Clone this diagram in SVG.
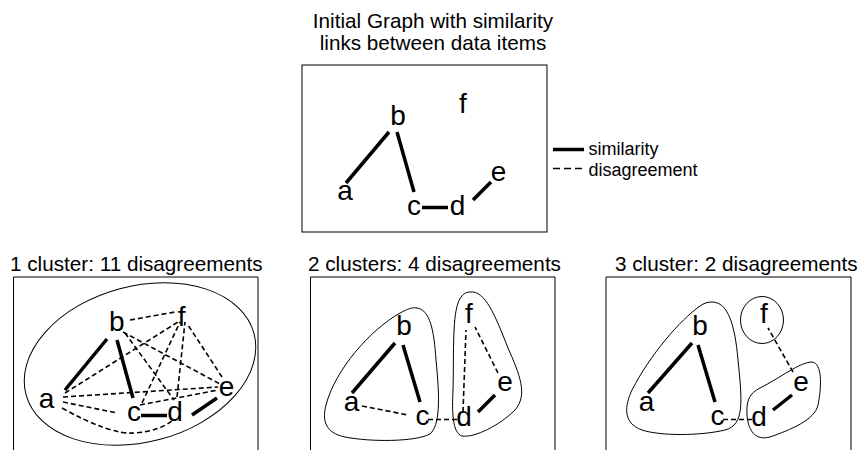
<svg xmlns="http://www.w3.org/2000/svg" width="861" height="450" viewBox="0 0 861 450">
<style>
  .t { font-family: "Liberation Sans", Arial, sans-serif; fill: #000; }
  .title { font-size: 20.7px; }
  .leg { font-size: 18px; }
  .n { font-size: 28px; text-anchor: middle; }
  .box { fill: none; stroke: #000; stroke-width: 1; }
  .sim { stroke: #000; stroke-width: 3.5; fill: none; }
  .dis { stroke: #000; stroke-width: 1.6; stroke-dasharray: 5 3; fill: none; }
  .cl { fill: none; stroke: #000; stroke-width: 1; }
</style>
<rect width="861" height="450" fill="#fff"/>

<g id="title-initial">
  <text class="t title" x="433" y="28" text-anchor="middle">Initial Graph with similarity</text>
  <text class="t title" x="433" y="50" text-anchor="middle">links between data items</text>
</g>
<g id="frame-initial"><rect class="box" x="302" y="65" width="245" height="167"/></g>

<g id="legend">
  <line class="sim" x1="553" y1="149.5" x2="584" y2="149.5"/>
  <text class="t leg" x="588.5" y="155">similarity</text>
  <line x1="553" y1="168.5" x2="584" y2="168.5" stroke="#000" stroke-width="1.6" stroke-dasharray="7 4"/>
  <text class="t leg" x="588.5" y="176">disagreement</text>
</g>

<g id="panel-titles">
  <text class="t title" x="10" y="271">1 cluster: 11 disagreements</text>
  <text class="t title" x="308" y="271">2 clusters: 4 disagreements</text>
  <text class="t title" x="615" y="271">3 cluster: 2 disagreements</text>
</g>
<g id="frames">
  <path class="box" d="M13.5,451 V277 H258 V451"/>
  <path class="box" d="M310.5,451 V277 H555 V451"/>
  <path class="box" d="M606,451 V277 H851 V451"/>
</g>

<g id="clusters">
  <ellipse class="cl" cx="140" cy="364" rx="118" ry="78" transform="rotate(-15 140 364)"/>
  <path class="cl" d="M417,308 C430,310 434,330 436,360 C440,400 440,425 430,434 C415,442 370,442 345,437 C325,433 322,420 326,405 C335,370 370,330 400,313 C408,309 412,307 417,308 Z"/>
  <path class="cl" d="M470,292 C485,290 495,315 508,348 C520,375 528,395 515,410 C500,425 475,438 462,436 C452,433 452,410 453,390 C454,360 452,320 458,303 C461,295 465,292 470,292 Z"/>
  <path class="cl" d="M712,302 C728,302 735,325 738,360 C742,400 745,425 725,430 C700,436 660,436 642,430 C622,423 625,405 632,390 C650,355 680,320 700,306 C704,303 708,302 712,302 Z"/>
  <ellipse class="cl" cx="762" cy="320" rx="21.5" ry="23.5"/>
  <path class="cl" d="M760,388 C780,378 800,362 812,362 C822,363 822,385 818,405 C815,420 790,430 770,437 C755,441 748,430 747,415 C746,400 750,393 760,388 Z"/>
</g>

<g id="connectors">
  <!-- initial graph -->
  <line class="sim" x1="346" y1="183" x2="389" y2="132"/>
  <line class="sim" x1="397" y1="132" x2="414" y2="192"/>
  <line class="sim" x1="422" y1="207.5" x2="448" y2="207.5"/>
  <line class="sim" x1="473" y1="200" x2="491" y2="182"/>
  <!-- panel 1 -->
  <line class="sim" x1="65" y1="390" x2="107" y2="339"/>
  <line class="sim" x1="117" y1="340" x2="133" y2="398"/>
  <line class="sim" x1="141" y1="415.5" x2="167" y2="415.5"/>
  <line class="sim" x1="192" y1="415" x2="217" y2="398"/>
  <line class="dis" x1="130" y1="320" x2="175" y2="312"/>
  <line class="dis" x1="123" y1="332" x2="220" y2="384"/>
  <line class="dis" x1="125" y1="333" x2="174" y2="400"/>
  <line class="dis" x1="65" y1="393" x2="178" y2="322"/>
  <line class="dis" x1="63" y1="397" x2="218" y2="387"/>
  <line class="dis" x1="63" y1="402" x2="117" y2="413"/>
  <path class="dis" d="M62,408 Q110,435 135,433 Q160,431 173,420"/>
  <line class="dis" x1="140" y1="405" x2="218" y2="390"/>
  <line class="dis" x1="142" y1="403" x2="180" y2="322"/>
  <line class="dis" x1="177" y1="397" x2="185" y2="322"/>
  <line class="dis" x1="222" y1="377" x2="188" y2="325"/>
  <!-- panel 2 -->
  <line class="sim" x1="352" y1="393" x2="395" y2="343"/>
  <line class="sim" x1="403" y1="345" x2="420" y2="402"/>
  <line class="sim" x1="478" y1="412" x2="495" y2="395"/>
  <line class="dis" x1="362" y1="406" x2="408" y2="415"/>
  <line class="dis" x1="428" y1="419.5" x2="457" y2="419.5"/>
  <line class="dis" x1="463" y1="412" x2="466" y2="330"/>
  <line class="dis" x1="498" y1="373" x2="475" y2="327"/>
  <!-- panel 3 -->
  <line class="sim" x1="648" y1="393" x2="692" y2="343"/>
  <line class="sim" x1="698" y1="345" x2="715" y2="402"/>
  <line class="sim" x1="773" y1="410" x2="792" y2="395"/>
  <line class="dis" x1="723" y1="419.5" x2="752" y2="419.5"/>
  <line class="dis" x1="793" y1="372" x2="768" y2="328"/>
</g>

<g id="nodes-initial">
  <text class="t n" x="398" y="125">b</text>
  <text class="t n" x="463" y="113">f</text>
  <text class="t n" x="345" y="200">a</text>
  <text class="t n" x="414" y="215">c</text>
  <text class="t n" x="457.5" y="215">d</text>
  <text class="t n" x="498.5" y="181">e</text>
</g>
<g id="nodes-1">
  <text class="t n" x="116.7" y="331">b</text>
  <text class="t n" x="181.7" y="326">f</text>
  <text class="t n" x="46.5" y="408">a</text>
  <text class="t n" x="134" y="421">c</text>
  <text class="t n" x="175" y="421">d</text>
  <text class="t n" x="226.5" y="396">e</text>
</g>
<g id="nodes-2">
  <text class="t n" x="404" y="335">b</text>
  <text class="t n" x="469" y="323">f</text>
  <text class="t n" x="351.5" y="411">a</text>
  <text class="t n" x="422.5" y="425">c</text>
  <text class="t n" x="464" y="426">d</text>
  <text class="t n" x="505" y="391">e</text>
</g>
<g id="nodes-3">
  <text class="t n" x="700" y="335">b</text>
  <text class="t n" x="764" y="323">f</text>
  <text class="t n" x="646.5" y="411">a</text>
  <text class="t n" x="717.5" y="425">c</text>
  <text class="t n" x="759" y="426">d</text>
  <text class="t n" x="801" y="391">e</text>
</g>
</svg>
